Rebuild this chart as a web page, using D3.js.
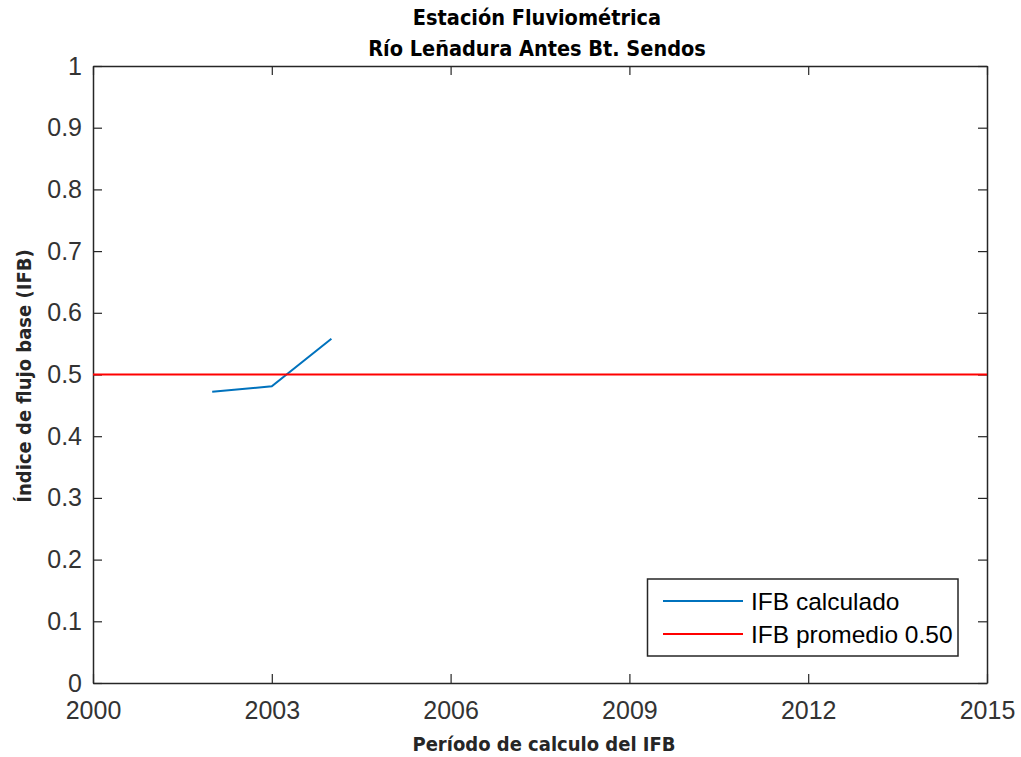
<!DOCTYPE html>
<html><head><meta charset="utf-8">
<script src="https://cdn.jsdelivr.net/npm/d3@7"></script>
<style>body{margin:0;background:#fff}svg{display:block}</style>
</head><body>
<script>
const years = [2002, 2003, 2004];
const ifbValues = [0.472, 0.481, 0.558];
const ifbMean = 0.50;
const xTicks = [2000, 2003, 2006, 2009, 2012, 2015];
const yTicks = [0, 0.1, 0.2, 0.3, 0.4, 0.5, 0.6, 0.7, 0.8, 0.9, 1];
const titleLines = ["Estación Fluviométrica", "Río Leñadura Antes Bt. Sendos"];
const legendLabels = ["IFB calculado", "IFB promedio 0.50"];

const W = 1021, H = 757;
const L = 93, R = 987, T = 66, B = 683;
const svg = d3.select("body").append("svg").attr("width", W).attr("height", H);
const x = d3.scaleLinear().domain([2000, 2015]).range([L, R]);
const y = d3.scaleLinear().domain([0, 1]).range([B, T]);
const axCol = "#262626";
const tickFont = "'Liberation Sans', Arial, sans-serif";
const boldFont = "'DejaVu Sans Condensed', 'Open Sans', sans-serif";

function styleAxis(g) {
  g.selectAll("path").attr("stroke", axCol).attr("stroke-width", 1.5);
  g.selectAll("line").attr("stroke", axCol).attr("stroke-width", 1.2);
  g.selectAll("text").attr("fill", "#333").style("font-family", tickFont).style("font-size", "25px");
}
const fmtY = d => d === 0 ? "0" : d === 1 ? "1" : d3.format(".1f")(d);
svg.append("g").attr("transform", `translate(0,${B})`)
  .call(d3.axisBottom(x).tickValues(xTicks).tickFormat(d3.format("d")).tickSizeInner(-9).tickSizeOuter(0).tickPadding(18))
  .call(styleAxis);
svg.append("g").attr("transform", `translate(0,${T})`)
  .call(d3.axisTop(x).tickValues(xTicks).tickFormat("").tickSizeInner(-9).tickSizeOuter(0))
  .call(styleAxis);
svg.append("g").attr("transform", `translate(${L},0)`)
  .call(d3.axisLeft(y).tickValues(yTicks).tickFormat(fmtY).tickSizeInner(-9).tickSizeOuter(0).tickPadding(11))
  .call(styleAxis);
svg.append("g").attr("transform", `translate(${R},0)`)
  .call(d3.axisRight(y).tickValues(yTicks).tickFormat("").tickSizeInner(-9).tickSizeOuter(0))
  .call(styleAxis);

const data = years.map((yr, i) => ({yr, v: ifbValues[i]}));
svg.append("path").datum(data)
  .attr("fill", "none").attr("stroke", "#0072BD").attr("stroke-width", 2)
  .attr("d", d3.line().x(d => x(d.yr)).y(d => y(d.v)));
svg.append("line")
  .attr("x1", x(2000)).attr("x2", x(2015)).attr("y1", y(ifbMean)).attr("y2", y(ifbMean))
  .attr("stroke", "#FF0000").attr("stroke-width", 2.2);

svg.selectAll("text.title").data(titleLines).enter().append("text")
  .attr("x", 537).attr("y", (d, i) => 25 + i * 31)
  .attr("text-anchor", "middle").attr("fill", "#000")
  .style("font-family", boldFont).style("font-weight", "bold").style("font-size", "21.5px")
  .text(d => d);
svg.append("text").attr("x", 544).attr("y", 751).attr("text-anchor", "middle")
  .style("font-family", boldFont).style("font-weight", "bold").style("font-size", "20px").attr("fill", axCol)
  .text("Período de calculo del IFB");
svg.append("text").attr("transform", `translate(31,376) rotate(-90)`).attr("text-anchor", "middle")
  .style("font-family", boldFont).style("font-weight", "bold").style("font-size", "20px").attr("fill", axCol)
  .text("Índice de flujo base (IFB)");

const lg = svg.append("g");
lg.append("rect").attr("x", 647.5).attr("y", 579).attr("width", 310.5).attr("height", 77)
  .attr("fill", "#fff").attr("stroke", axCol).attr("stroke-width", 1.5);
const colors = ["#0072BD", "#FF0000"];
legendLabels.forEach((lab, i) => {
  const yy = 601 + i * 33;
  lg.append("line").attr("x1", 663).attr("x2", 743).attr("y1", yy).attr("y2", yy)
    .attr("stroke", colors[i]).attr("stroke-width", 2);
  lg.append("text").attr("x", 751).attr("y", yy).attr("dy", "0.36em")
    .style("font-family", tickFont).style("font-size", "24.5px").attr("fill", "#000").text(lab);
});
</script>
</body></html>
